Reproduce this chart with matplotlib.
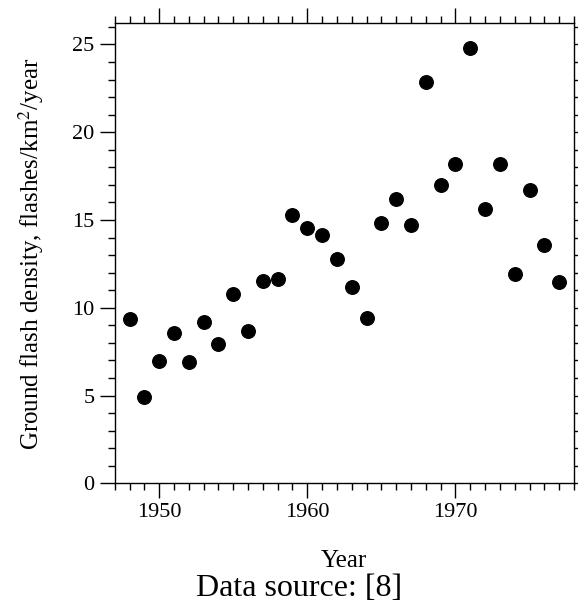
import matplotlib.pyplot as plt
from matplotlib.ticker import MultipleLocator

plt.rcParams.update({"font.family": "Liberation Serif"})
plt.rcParams.update({"mathtext.fontset": "stix"})

years = list(range(1948, 1978))
density = [
    9.36, 4.94, 6.99, 8.54, 6.93, 9.21, 7.92, 10.80, 8.66, 11.50,
    11.63, 15.30, 14.54, 14.12, 12.77, 11.20, 9.40, 14.82, 16.17, 14.69,
    22.85, 17.01, 18.17, 24.81, 15.64, 18.17, 11.90, 16.73, 13.55, 11.45,
]

fig = plt.figure(figsize=(5.78, 6.06), dpi=100)
ax = fig.add_axes([0.1985, 0.2025, 0.7945, 0.759])

ax.scatter(years, density, s=95, color="k", zorder=3, clip_on=False)

ax.set_xlim(1947, 1978)
ax.set_ylim(0, 26.2)
ax.xaxis.set_major_locator(MultipleLocator(10))
ax.xaxis.set_minor_locator(MultipleLocator(1))
ax.yaxis.set_major_locator(MultipleLocator(5))
ax.yaxis.set_minor_locator(MultipleLocator(1))
ax.tick_params(which="both", direction="out", top=True, right=True,
               width=1, labelsize=16)
ax.tick_params(which="major", length=11)
ax.tick_params(which="minor", length=5)
for s in ax.spines.values():
    s.set_linewidth(1)

ax.set_ylabel("Ground flash density, flashes/km$^2$/year", fontsize=18, labelpad=19)
ax.set_xlabel("Year", fontsize=18, labelpad=20)
fig.text(299 / 578, 1 - 588 / 606, "Data source: [8]", fontsize=23,
         ha="center", va="center")

fig.savefig("out.png", dpi=100)
